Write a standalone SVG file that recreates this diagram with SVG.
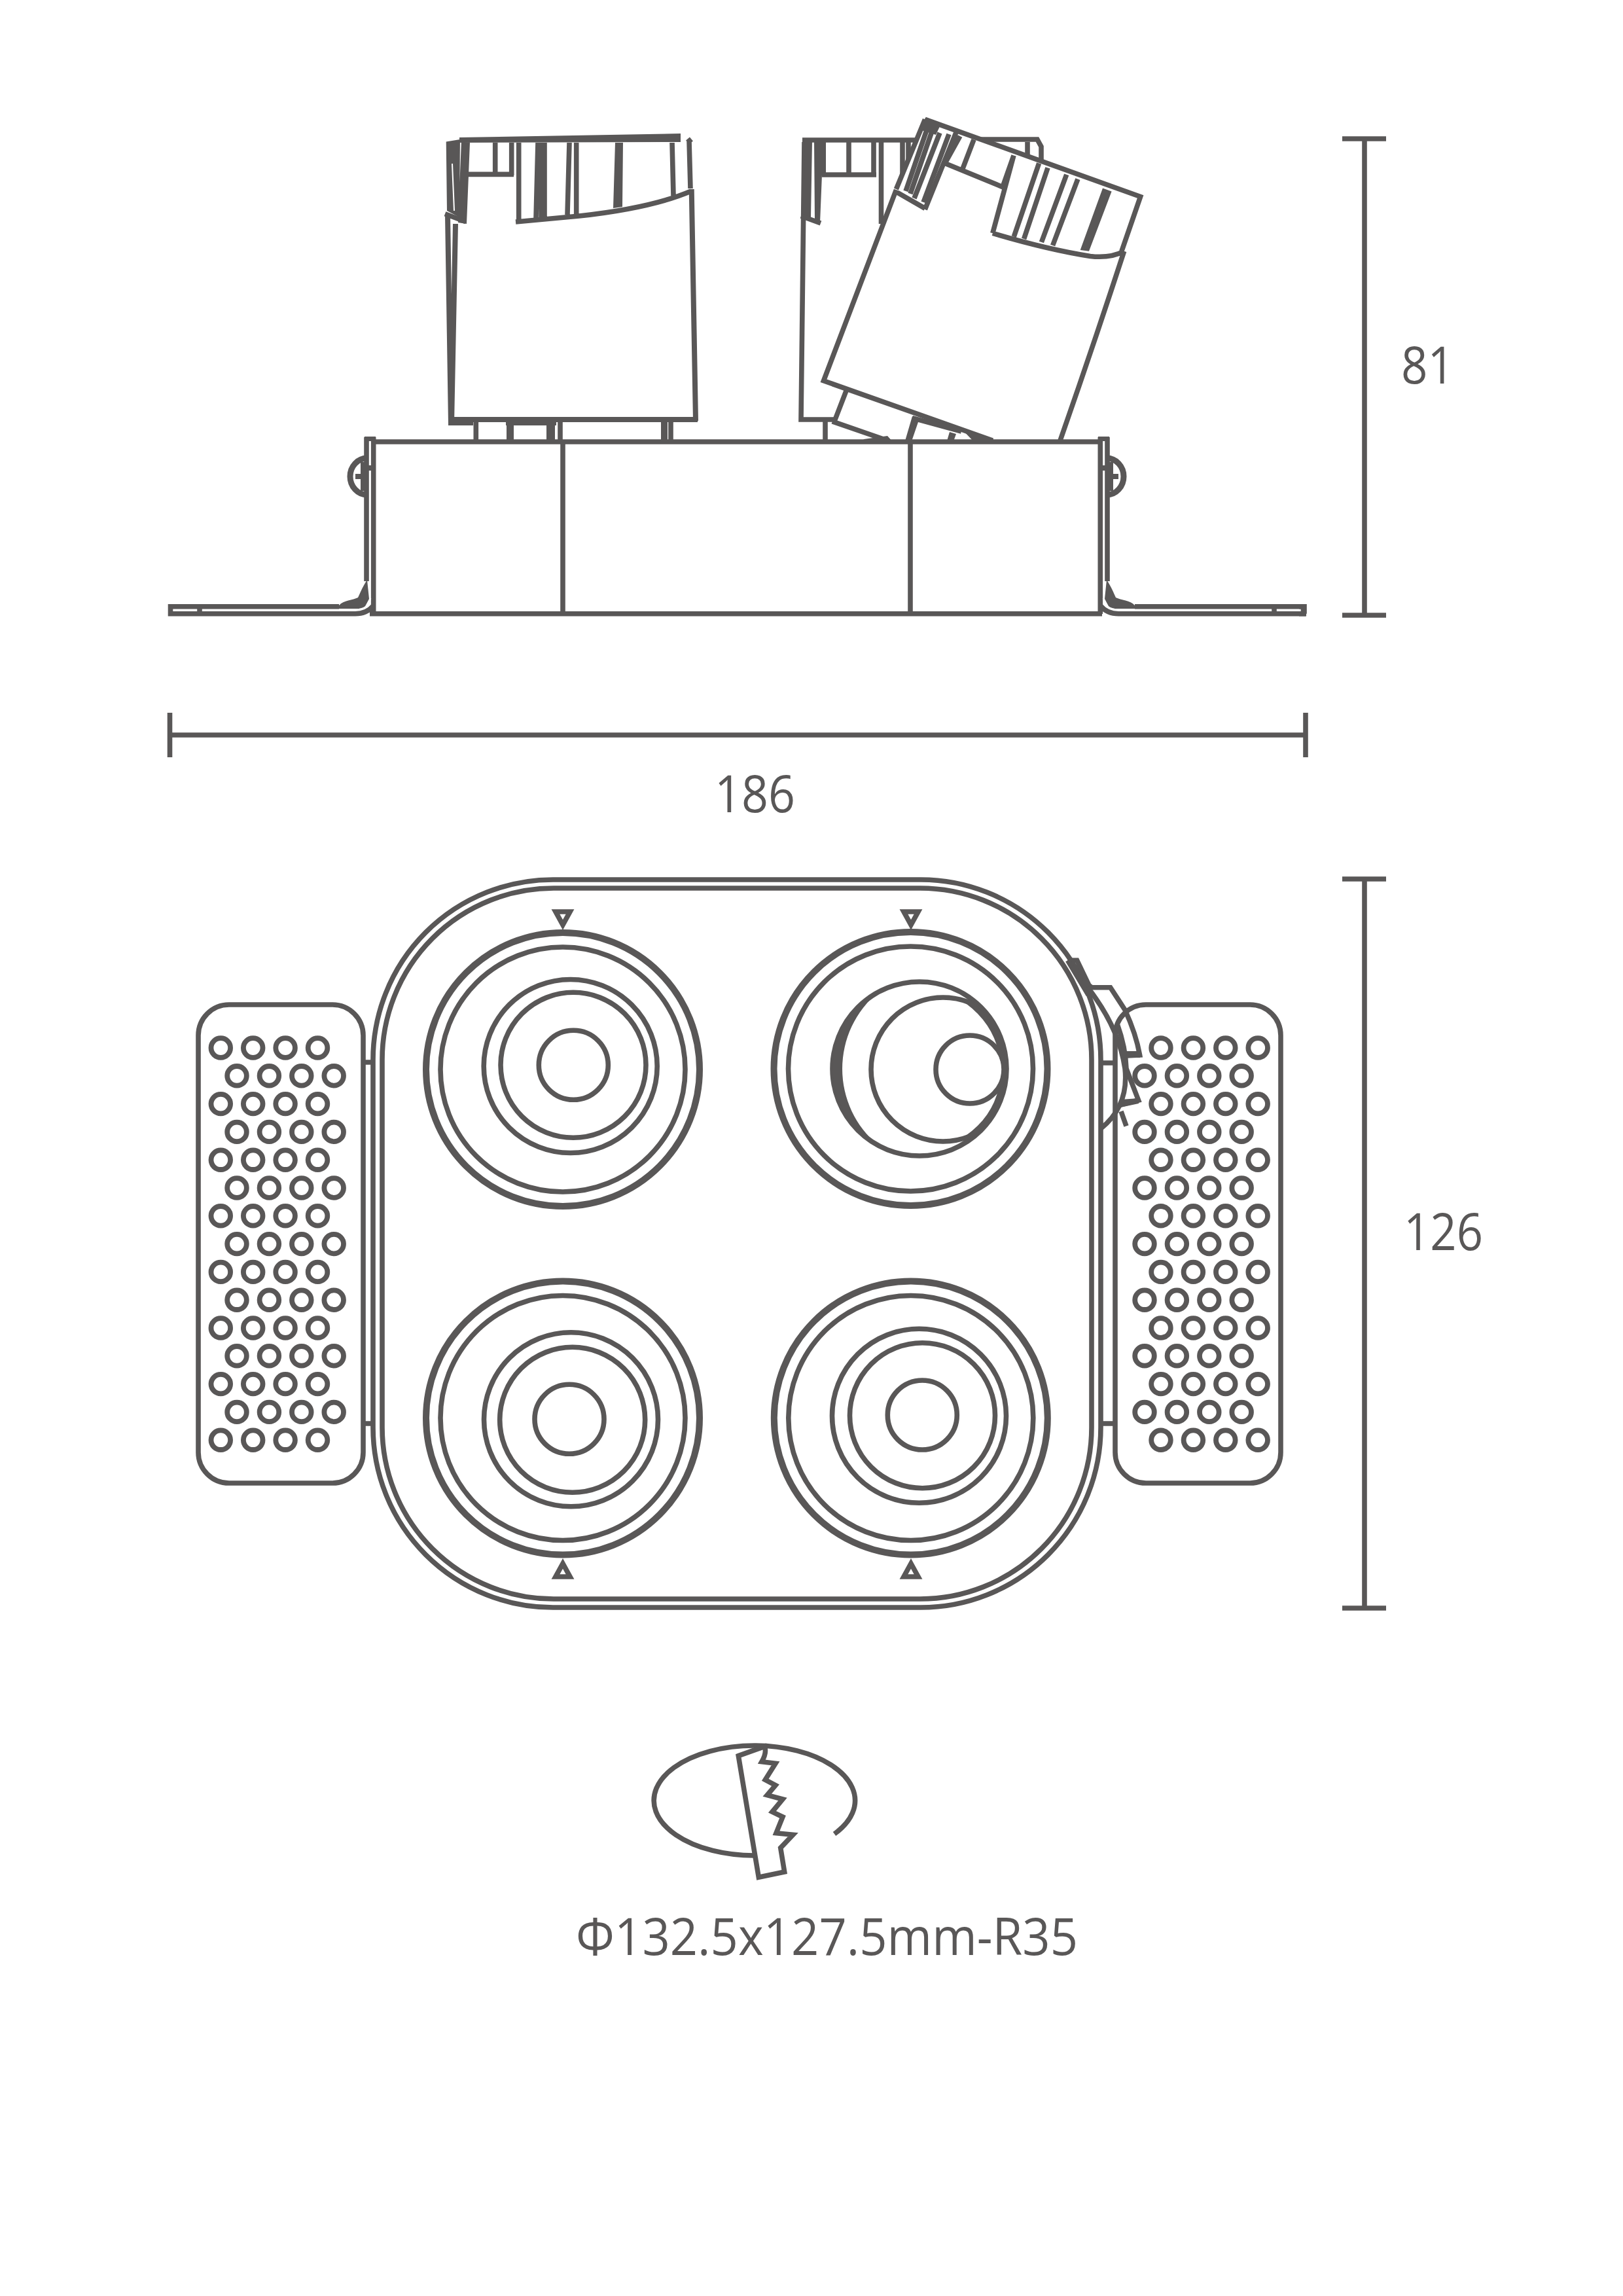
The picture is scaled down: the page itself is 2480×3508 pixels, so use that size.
<svg xmlns="http://www.w3.org/2000/svg" xmlns:xlink="http://www.w3.org/1999/xlink" width="2480" height="3508" viewBox="0 0 2480 3508">
<style>
.l{fill:none;stroke:#595757;stroke-width:7.6;stroke-linejoin:miter}
.w{fill:#fff;stroke:none}
.d{fill:#595757;stroke:none}
.t{font-family:"Open Sans","Liberation Sans",sans-serif;font-size:78px;fill:#595757}
.o{fill:none;stroke:#595757;stroke-width:10}
.h{fill:none;stroke:#595757;stroke-width:7.8}
</style>
<defs>
<g id="row">
<circle class="h" cx="0" cy="0" r="14.8"/><circle class="h" cx="49.4" cy="0" r="14.8"/><circle class="h" cx="98.8" cy="0" r="14.8"/><circle class="h" cx="148.2" cy="0" r="14.8"/>
</g>
<g id="flange">
<path class="l" d="M560 668V888M570.7 668V938M574 675H570"/>
<rect class="d" x="557" y="667" width="17" height="7"/>
<path class="l" d="M518 926.7H260.500V937.700H542Q560 938 570 926"/>
<path class="l" d="M305 925V939" stroke-width="6"/>
<path class="l" d="M561 700A26 28 0 0 0 561 756" style="stroke-width:9"/>
<path class="l" d="M543 728H561M555 706V750M563 715H573" style="stroke-width:8"/>
<path class="d" d="M561 886C553 898 551 905 547 913C539 917 525 917 518 925L518 930H556L564 915Z"/>
<path d="M549 931Q564 929 566 914" fill="none" stroke="#fff" stroke-width="2.500"/>
</g>
<clipPath id="tilt"><circle cx="1405" cy="1633" r="133"/></clipPath>
</defs>

<g id="side-view">
<g id="rear-luminaire">
<path class="l" d="M1229 217L1224 641H1275M1226 214H1402M1497 213H1585L1591 224V245M1570 217V238"/>
<path class="d" d="M1230 215H1241L1239 332H1228ZM1244 215H1262V267H1256L1253 340L1245 336Z"/>
<path class="l" d="M1224 330L1254 341M1256 267H1339M1297 217V267M1335 217V270M1346.500 217V342M1379 217V281M1388 217V260"/>
<path class="l" d="M1261 641V675"/>
</g>
<g id="left-luminaire">
<path class="l" d="M1053 215L1055 288M1051 212L1056 218"/>
<path class="d" d="M702 210L1040 204V217L702 218ZM681.700 216.500L703 213L702 332L683 322ZM705 215L718 218L713 342L700 340ZM940 218H952L951 316L937 318Z"/>
<path d="M691 250L694 322" stroke="#fff" stroke-width="2" fill="none"/>
<path class="l" d="M680 326.700L711.700 338.700M713 266.400H785M756.700 218V266M781.700 218V268M792.700 218V339M788 339L885 330Q995 318 1056 292M822 218L819 334M827 218V332M832 218V332M870 218L867 328M880.700 218V328M1027 218L1029 299"/>
<path class="l" d="M1056.700 289L1063 643M684 328L689 648M696 342L690 648M688 641H1066" style="stroke-width:8"/>
<path class="d" d="M685 637L723 640V650H685ZM773 640H850V650H773ZM774 650H785V675H774ZM835 650H848V675H835ZM1010 645H1020V675H1010Z"/>
<path class="l" d="M727.300 641V675M856 641V675M1025 641V675"/>
</g>
<g id="tilted-luminaire">
<path class="w" d="M1258.500 581.800L1369.400 292.600L1413.400 181.300L1742.600 300.500L1717.700 383.800L1620 673H1516.800Z"/>
<path class="l" d="M1369.400 290L1258.500 581.800L1516.800 673M1620 673Q1670 530 1717.700 383.800M1413.400 182.400L1742.600 300.500L1713.900 383.800M1516.800 356.300Q1600 381 1666 391.400Q1696 395 1717.700 383.800M1516.800 356.300L1549 237.500M1413.400 182.400L1369.400 289M1371.400 294.300L1413.400 318.400M1461.300 201.300L1413.400 320M1444 249.500L1532 285.700L1549 237.500M1444 249.500L1467 208M1488 213.400L1470.900 258M1587.600 249.500L1549.300 361.400M1601 256.400L1564.600 365M1629.700 266.800L1591.400 370M1646.900 273.600L1608.600 375"/>
<path class="l" d="M1419 190L1384 292M1426 195L1391 296M1436 203L1397 303M1450 205L1411 309"/>
<path class="d" d="M1685 287.400L1698.600 292.600L1664 383.800L1650.700 382ZM1414 180L1438 189L1430 206L1405 198Z"/>
<path class="l" d="M1292.900 597.300L1275.700 642M1271.800 643.800L1356 673M1394 638.600L1469 659"/>
<path class="d" d="M1320 671L1356 666L1366 677H1316ZM1394 636L1404 642L1392 677H1382ZM1451 660L1461 663L1456 677H1446ZM1469 655L1518 671V677H1490Z"/>
</g>
<g id="housing">
<path class="l" d="M570 675H1682M565 937.700H1684M860 675V938M1391 675V938"/>
<use href="#flange"/>
<use href="#flange" transform="matrix(-1 0 0 1 2252 0)"/>
<path class="l" d="M1985 926.700H1993V937.700M1985 937.700H1996"/>
</g>
</g>

<g id="dimensions">
<path class="l" d="M2085 212V940M2051 212H2118M2051 940H2118"/>
<path class="l" d="M259.500 1123H1995M259.500 1089V1157M1995 1089V1157"/>
<path class="l" d="M2085 1343V2457M2051 1343H2118M2051 2457H2118"/>
<text class="t" x="2141" y="586" textLength="81" lengthAdjust="spacingAndGlyphs">81</text>
<text class="t" x="1092" y="1241" textLength="123" lengthAdjust="spacingAndGlyphs">186</text>
<text class="t" x="2145" y="1910" textLength="121" lengthAdjust="spacingAndGlyphs">126</text>
</g>

<g id="top-view">
<g id="trim">
<rect class="l" x="570" y="1344" width="1112" height="1112" rx="275"/>
<rect class="l" x="584" y="1357" width="1084" height="1086" rx="262"/>
</g>
<g id="left-spring">
<rect class="l" x="303" y="1535" width="252" height="731" rx="47"/>
<path class="l" d="M555 1623H570M555 2175H570"/>
<use href="#row" x="337.300" y="1601"/><use href="#row" x="362" y="1643.800"/><use href="#row" x="337.300" y="1686.600"/><use href="#row" x="362" y="1729.400"/><use href="#row" x="337.300" y="1772.200"/><use href="#row" x="362" y="1815"/><use href="#row" x="337.300" y="1857.800"/><use href="#row" x="362" y="1900.600"/><use href="#row" x="337.300" y="1943.400"/><use href="#row" x="362" y="1986.200"/><use href="#row" x="337.300" y="2029"/><use href="#row" x="362" y="2071.800"/><use href="#row" x="337.300" y="2114.600"/><use href="#row" x="362" y="2157.400"/><use href="#row" x="337.300" y="2200.200"/>
</g>
<g id="right-spring">
<rect class="l" x="1704" y="1535" width="253" height="731" rx="47"/>
<path class="l" d="M1682 1624H1703M1682 2175H1703"/>
<use href="#row" x="1774" y="1601"/><use href="#row" x="1749" y="1643.800"/><use href="#row" x="1774" y="1686.600"/><use href="#row" x="1749" y="1729.400"/><use href="#row" x="1774" y="1772.200"/><use href="#row" x="1749" y="1815"/><use href="#row" x="1774" y="1857.800"/><use href="#row" x="1749" y="1900.600"/><use href="#row" x="1774" y="1943.400"/><use href="#row" x="1749" y="1986.200"/><use href="#row" x="1774" y="2029"/><use href="#row" x="1749" y="2071.800"/><use href="#row" x="1774" y="2114.600"/><use href="#row" x="1749" y="2157.400"/><use href="#row" x="1774" y="2200.200"/>
</g>
<g id="hinge">
<path class="l" d="M1631.400 1467.400H1645.700L1664 1505.300L1668 1508.700H1696.700L1719 1543Q1736 1580 1741.600 1612L1722 1613"/>
<path class="l" d="M1662 1508.700Q1710 1570 1719 1632.700Q1725 1690 1682.400 1724"/>
<path class="l" d="M1707 1564Q1720 1600 1721 1632.700L1739.600 1681L1712 1688M1713 1698L1721 1720.500M1631.400 1467.400L1663 1520"/>
<path class="d" d="M1721 1606L1743 1606L1742 1616L1722 1616ZM1712 1680L1740 1678L1740 1686L1712 1692Z"/>
</g>
<g id="lamp-top-left">
<circle class="o" cx="860" cy="1634" r="209"/><circle class="l" cx="860" cy="1634" r="187"/><circle class="l" cx="871.700" cy="1629" r="132.500"/><circle class="l" cx="876" cy="1627.300" r="111"/><circle class="l" cx="876.300" cy="1627.300" r="53"/>
<path class="l" d="M849 1393H871L860 1413Z"/>
</g>
<g id="lamp-top-right">
<circle class="o" cx="1391.500" cy="1633" r="209"/><circle class="l" cx="1391.500" cy="1633" r="187"/><circle class="l" cx="1405" cy="1633" r="133"/>
<path class="d" d="M1342 1516A133 133 0 0 0 1342 1750A152 152 0 0 1 1342 1516Z"/>
<circle class="l" cx="1441" cy="1634" r="110" clip-path="url(#tilt)"/>
<path class="l" d="M1478 1530Q1525 1565 1532 1620"/>
<path class="l" d="M1478 1738Q1525 1705 1532 1650"/>
<circle class="l" cx="1482" cy="1634" r="52"/>
<path class="l" d="M1381 1393H1403L1392 1413Z"/>
</g>
<g id="lamp-bottom-left">
<circle class="o" cx="860" cy="2166.500" r="209"/><circle class="l" cx="860" cy="2166.500" r="187"/><circle class="l" cx="872.500" cy="2168.800" r="133"/><circle class="l" cx="874.700" cy="2169.300" r="111"/><circle class="l" cx="870" cy="2168.300" r="53"/>
<path class="l" d="M849 2409H871L860 2389Z"/>
</g>
<g id="lamp-bottom-right">
<circle class="o" cx="1391.800" cy="2166.500" r="209"/><circle class="l" cx="1391.800" cy="2166.500" r="187"/><circle class="l" cx="1404.500" cy="2163.300" r="133"/><circle class="l" cx="1409.500" cy="2162.700" r="111"/><circle class="l" cx="1409.300" cy="2162" r="53"/>
<path class="l" d="M1381 2409H1403L1392 2389Z"/>
</g>
</g>

<g id="cutout-symbol">
<path class="l" d="M1275 2802A153.700 84 0 1 0 1152 2835"/>
<path class="l" d="M1128.300 2682.700L1168.300 2668.300Q1172 2678 1164 2691.700L1185 2694.300L1169.300 2719.300L1185 2727.700L1172.300 2742.700L1196 2749L1180 2768.300L1196 2776L1186 2800.700L1211.700 2803.300L1192.700 2823.300L1198.700 2860L1159.300 2868.300Z"/>
</g>
<text class="t" x="880" y="2987" textLength="767" lengthAdjust="spacingAndGlyphs">Φ132.5x127.5mm-R35</text>
</svg>
